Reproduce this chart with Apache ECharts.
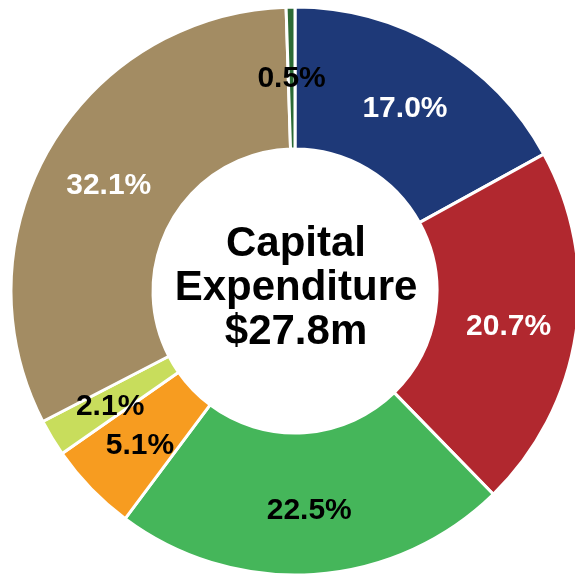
<!DOCTYPE html>
<html>
<head>
<meta charset="utf-8">
<script src="https://cdn.jsdelivr.net/npm/echarts@6/dist/echarts.min.js"></script>
<style>
  html, body { margin: 0; padding: 0; background: #fff; }
  #main { width: 575px; height: 577px; }
</style>
</head>
<body>
<div id="main"></div>
<script>
// slices, clockwise from the top
const names = ['A', 'B', 'C', 'D', 'E', 'F', 'Other'];
const shares = [17.0, 20.7, 22.5, 5.1, 2.1, 32.1, 0.5];
const colors = ['#1E3978', '#B1282F', '#45B65A', '#F79C20', '#C8DD5C', '#A38C63', '#2C6B35'];
const labelColors = ['#fff', '#fff', '#000', '#000', '#000', '#fff', '#000'];
const centerLines = ['Capital', 'Expenditure', '$27.8m'];

const chart = echarts.init(document.getElementById('main'));

const option = {
  animation: false,
  graphic: [{
    type: 'text',
    x: 296,
    y: 288,
    style: {
      text: centerLines.join('\n'),
      font: 'bold 42px "Liberation Sans", Arial, sans-serif',
      lineHeight: 44,
      fill: '#000',
      align: 'center',
      verticalAlign: 'middle'
    },
    z: 10
  }],
  series: [{
    type: 'pie',
    center: [295, 291],
    radius: [142, 284],
    startAngle: 90,
    clockwise: true,
    avoidLabelOverlap: false,
    itemStyle: { borderColor: '#fff', borderWidth: 3 },
    label: {
      show: true,
      position: 'inside',
      offset: [0, 4],
      fontFamily: '"Liberation Sans", Arial, sans-serif',
      fontWeight: 'bold',
      fontSize: 30,
      formatter: p => p.value.toFixed(1) + '%'
    },
    labelLine: { show: false },
    data: shares.map((v, i) => ({
      name: names[i],
      value: v,
      itemStyle: { color: colors[i] },
      label: { color: labelColors[i] }
    }))
  }]
};

option && chart.setOption(option);
</script>
</body>
</html>
